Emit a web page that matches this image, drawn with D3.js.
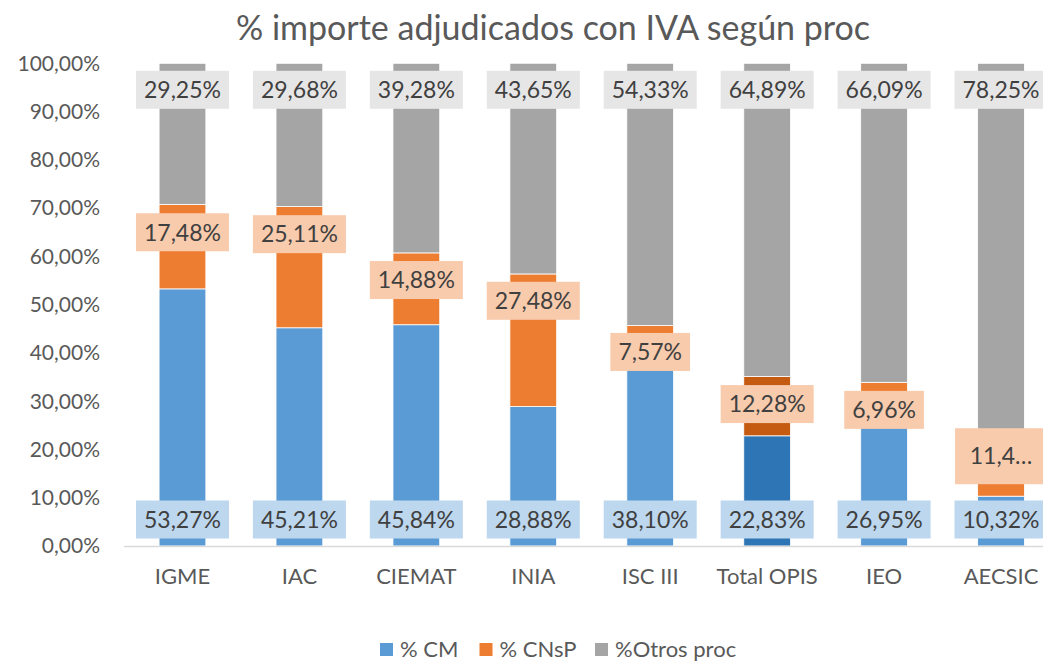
<!DOCTYPE html>
<html><head><meta charset="utf-8">
<script src="https://cdn.jsdelivr.net/npm/d3@7"></script>
<style>
html,body{margin:0;padding:0;background:#fff;}
svg{display:block;font-family:Lato,"Open Sans",sans-serif;}
</style></head>
<body><svg id="chart" width="1043" height="661"></svg>
<script>
const categories = ["IGME","IAC","CIEMAT","INIA","ISC III","Total OPIS","IEO","AECSIC"];
const cm    = [53.27,45.21,45.84,28.88,38.10,22.83,26.95,10.32];
const cnsp  = [17.48,25.11,14.88,27.48,7.57,12.28,6.96,11.43];
const otros = [29.25,29.68,39.28,43.65,54.33,64.89,66.09,78.25];
const cnspLabelAt = [65.0,64.6,55.1,50.8,40.2,29.4,28.2,18.6];
const cnspLabelText = ["17,48%","25,11%","14,88%","27,48%","7,57%","12,28%","6,96%","11,4…"];
const yTicks = [0,10,20,30,40,50,60,70,80,90,100];
const seriesNames = ["% CM","% CNsP","%Otros proc"];
const highlight = "Total OPIS";

const svg = d3.select("#chart");
const m = {left:124, right:1059.5, top:63.3, bottom:546};
const x = d3.scaleBand().domain(categories).range([m.left,m.right]).paddingInner(0.6).paddingOuter(0.3);
const y = d3.scaleLinear().domain([0,100]).range([m.bottom,m.top]);
const colors = ["#5B9BD5","#ED7D31","#A5A5A5"];
const dark = ["#2E75B6","#C55A11","#A5A5A5"];
const labelFill = ["#BDD7EE","#F8CBAD","#E7E6E6"];
const fmt = v => v.toFixed(2).replace(".", ",") + "%";

const rows = categories.map((c,i)=>({cat:c, s0:cm[i], s1:cnsp[i], s2:otros[i]}));
const stack = d3.stack().keys(["s0","s1","s2"])(rows);

// title
svg.append("text").attr("x",553).attr("y",40).attr("text-anchor","middle")
  .attr("font-size",34).attr("fill","#595959").text("% importe adjudicados con IVA según proc");

// y tick labels
svg.append("g").selectAll("text").data(yTicks).join("text")
  .attr("x",100).attr("y",d=>y(d)).attr("dy","0.35em").attr("text-anchor","end")
  .attr("font-size",21).attr("fill","#595959").text(d=>d.toFixed(2).replace(".",",")+"%");

// bars
stack.forEach((layer,si)=>{
  svg.append("g").selectAll("rect").data(layer).join("rect")
    .attr("x",d=>x(d.data.cat)).attr("width",x.bandwidth())
    .attr("y",d=>y(d[1])).attr("height",d=>y(d[0])-y(d[1]))
    .attr("fill",d=>d.data.cat===highlight?dark[si]:colors[si])
    .attr("stroke","#fff").attr("stroke-width",0.8);
});

// x axis line
svg.append("line").attr("x1",m.left).attr("x2",1043).attr("y1",m.bottom+0.5).attr("y2",m.bottom+0.5)
  .attr("stroke","#D9D9D9").attr("stroke-width",1.5);

// category labels
svg.append("g").selectAll("text").data(categories).join("text")
  .attr("x",d=>x(d)+x.bandwidth()/2).attr("y",584).attr("text-anchor","middle")
  .attr("font-size",22).attr("fill","#595959").text(d=>d);

// data labels
function addLabel(cx, cy, txt, fill, tall){
  const g = svg.append("g");
  const r = g.append("rect").attr("fill",fill);
  const t = g.append("text").attr("x",cx).attr("y",cy).attr("dy","0.36em").attr("text-anchor","middle")
    .attr("font-size",23).attr("fill","#404040").text(txt);
  const w = tall ? 92 : t.node().getComputedTextLength()+16;
  const h = tall ? 56 : 38;
  r.attr("x",cx-w/2).attr("y",cy-h/2).attr("width",w).attr("height",h);
}
categories.forEach((c,i)=>{
  const cx = x(c)+x.bandwidth()/2;
  addLabel(cx, m.bottom-26.5, fmt(cm[i]), labelFill[0], false);
  addLabel(cx, y(cnspLabelAt[i]), cnspLabelText[i], labelFill[1], cnspLabelText[i].includes("…"));
  addLabel(cx, m.top+26.5, fmt(otros[i]), labelFill[2], false);
});

// legend
const legX = [380, 479.5, 595];
seriesNames.forEach((n,i)=>{
  svg.append("rect").attr("x",legX[i]).attr("y",643).attr("width",13).attr("height",13).attr("fill",colors[i]);
  svg.append("text").attr("x",legX[i]+20).attr("y",657).attr("font-size",22).attr("fill","#595959").text(n);
});
</script></body></html>
